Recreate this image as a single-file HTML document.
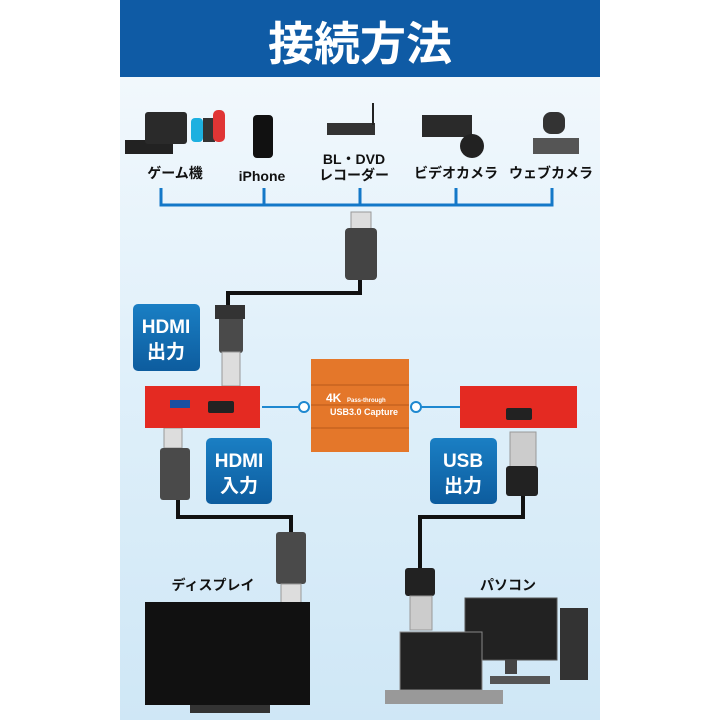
<!DOCTYPE html>
<html><head><meta charset="utf-8"><style>
body{margin:0;background:#fff;width:720px;height:720px;overflow:hidden}
svg{display:block}
text{font-family:"Liberation Sans","Noto Sans CJK JP",sans-serif;font-weight:bold}
</style></head><body>
<svg width="720" height="720" viewBox="0 0 720 720" xmlns="http://www.w3.org/2000/svg">
<defs>
<linearGradient id="bg" x1="0" y1="0" x2="0" y2="1"><stop offset="0" stop-color="#f6fafd"/><stop offset="0.5" stop-color="#e0f0fa"/><stop offset="1" stop-color="#cfe7f6"/></linearGradient>
<linearGradient id="box" x1="0" y1="0" x2="0" y2="1"><stop offset="0" stop-color="#1a7fc4"/><stop offset="1" stop-color="#0d5c9e"/></linearGradient>
</defs>
<rect x="120" y="0" width="480" height="720" fill="url(#bg)"/>
<rect x="120" y="0" width="480" height="77" fill="#0f5ba5"/>
<text x="360" y="60" font-size="46" fill="#fff" text-anchor="middle">接続方法</text>
<!-- devices -->
<rect x="125" y="140" width="48" height="14" fill="#222"/><rect x="145" y="112" width="42" height="32" rx="3" fill="#2a2a2a"/>
<rect x="191" y="118" width="12" height="24" rx="4" fill="#1db0e0"/><rect x="203" y="118" width="12" height="24" fill="#333"/><rect x="213" y="110" width="12" height="32" rx="5" fill="#e03535"/>
<rect x="253" y="115" width="20" height="43" rx="4" fill="#111"/>
<rect x="327" y="123" width="48" height="12" fill="#333"/><rect x="372" y="103" width="2" height="22" fill="#222"/>
<rect x="422" y="115" width="50" height="22" fill="#2a2a2a"/><circle cx="472" cy="146" r="12" fill="#222"/>
<rect x="543" y="112" width="22" height="22" rx="8" fill="#333"/><rect x="533" y="138" width="46" height="16" fill="#555"/>
<g font-size="14" fill="#111">
<text x="175" y="178" text-anchor="middle">ゲーム機</text>
<text x="262" y="181" text-anchor="middle">iPhone</text>
<text x="354" y="164" text-anchor="middle">BL・DVD</text>
<text x="354" y="180" text-anchor="middle">レコーダー</text>
<text x="456" y="178" text-anchor="middle">ビデオカメラ</text>
<text x="551" y="178" text-anchor="middle">ウェブカメラ</text>
</g>
<g stroke="#1478c8" stroke-width="3" fill="none">
<path d="M161 188V205H552V188M264 188V205M360 188V205M456 188V205"/>
</g>
<!-- cables -->
<g stroke="#111" stroke-width="4" fill="none">
<path d="M360 280V293H228V305"/>
<path d="M178 500V517H291V532"/>
<path d="M523 495V517H420V568"/>
</g>
<!-- top HDMI connector -->
<rect x="351" y="212" width="20" height="18" fill="#ddd" stroke="#999"/>
<rect x="345" y="228" width="32" height="52" rx="4" fill="#444"/>
<rect x="219" y="313" width="24" height="40" rx="3" fill="#4a4a4a"/><rect x="215" y="305" width="30" height="14" fill="#333"/>
<rect x="222" y="352" width="18" height="34" fill="#ddd" stroke="#999"/>
<rect x="164" y="428" width="18" height="20" fill="#ddd" stroke="#999"/>
<rect x="160" y="448" width="30" height="52" rx="3" fill="#4a4a4a"/>
<rect x="276" y="532" width="30" height="52" rx="3" fill="#4a4a4a"/>
<rect x="281" y="584" width="20" height="20" fill="#ddd" stroke="#999"/>
<rect x="510" y="432" width="26" height="36" fill="#ccc" stroke="#999"/>
<rect x="506" y="466" width="32" height="30" rx="3" fill="#222"/>
<rect x="405" y="568" width="30" height="28" rx="3" fill="#222"/>
<rect x="410" y="596" width="22" height="34" fill="#ccc" stroke="#999"/>
<!-- label boxes -->
<rect x="133" y="304" width="67" height="67" rx="5" fill="url(#box)"/>
<text x="166" y="333" font-size="19" fill="#fff" text-anchor="middle">HDMI</text>
<text x="166" y="358" font-size="19" fill="#fff" text-anchor="middle">出力</text>
<rect x="206" y="438" width="66" height="66" rx="5" fill="url(#box)"/>
<text x="239" y="467" font-size="19" fill="#fff" text-anchor="middle">HDMI</text>
<text x="239" y="492" font-size="19" fill="#fff" text-anchor="middle">入力</text>
<rect x="430" y="438" width="67" height="66" rx="5" fill="url(#box)"/>
<text x="463" y="467" font-size="19" fill="#fff" text-anchor="middle">USB</text>
<text x="463" y="492" font-size="19" fill="#fff" text-anchor="middle">出力</text>
<!-- red devices -->
<rect x="145" y="386" width="115" height="42" fill="#e42a22"/>
<rect x="170" y="400" width="20" height="8" fill="#1a4fa0"/><rect x="208" y="401" width="26" height="12" rx="2" fill="#222"/>
<rect x="460" y="386" width="117" height="42" fill="#e42a22"/>
<rect x="506" y="408" width="26" height="12" rx="2" fill="#222"/>
<!-- connector lines -->
<g stroke="#1e88d0" stroke-width="2" fill="#fff"><path d="M262 407H300M418 407H460"/>
<circle cx="304" cy="407" r="5"/><circle cx="416" cy="407" r="5"/></g>
<!-- orange box -->
<rect x="311" y="359" width="98" height="93" fill="#e4772a"/>
<path d="M311 385H409M311 405H409M311 428H409" stroke="#b85a1a" stroke-width="1"/>
<text x="326" y="402" font-size="12" fill="#fff">4K</text>
<text x="347" y="402" font-size="6" fill="#fff">Pass-through</text>
<text x="330" y="415" font-size="9" fill="#fff">USB3.0 Capture</text>
<!-- bottom labels -->
<text x="213" y="590" font-size="14" fill="#111" text-anchor="middle">ディスプレイ</text>
<text x="508" y="590" font-size="14" fill="#111" text-anchor="middle">パソコン</text>
<!-- TV -->
<rect x="145" y="602" width="165" height="103" fill="#111"/>
<rect x="190" y="705" width="80" height="8" fill="#333"/>
<!-- PC -->
<rect x="465" y="598" width="92" height="62" fill="#222" stroke="#555"/>
<rect x="505" y="660" width="12" height="14" fill="#444"/>
<rect x="560" y="608" width="28" height="72" fill="#333"/>
<rect x="400" y="632" width="82" height="58" fill="#222" stroke="#888"/>
<rect x="385" y="690" width="118" height="14" fill="#999"/>
<rect x="490" y="676" width="60" height="8" fill="#555"/>
</svg>
</body></html>
